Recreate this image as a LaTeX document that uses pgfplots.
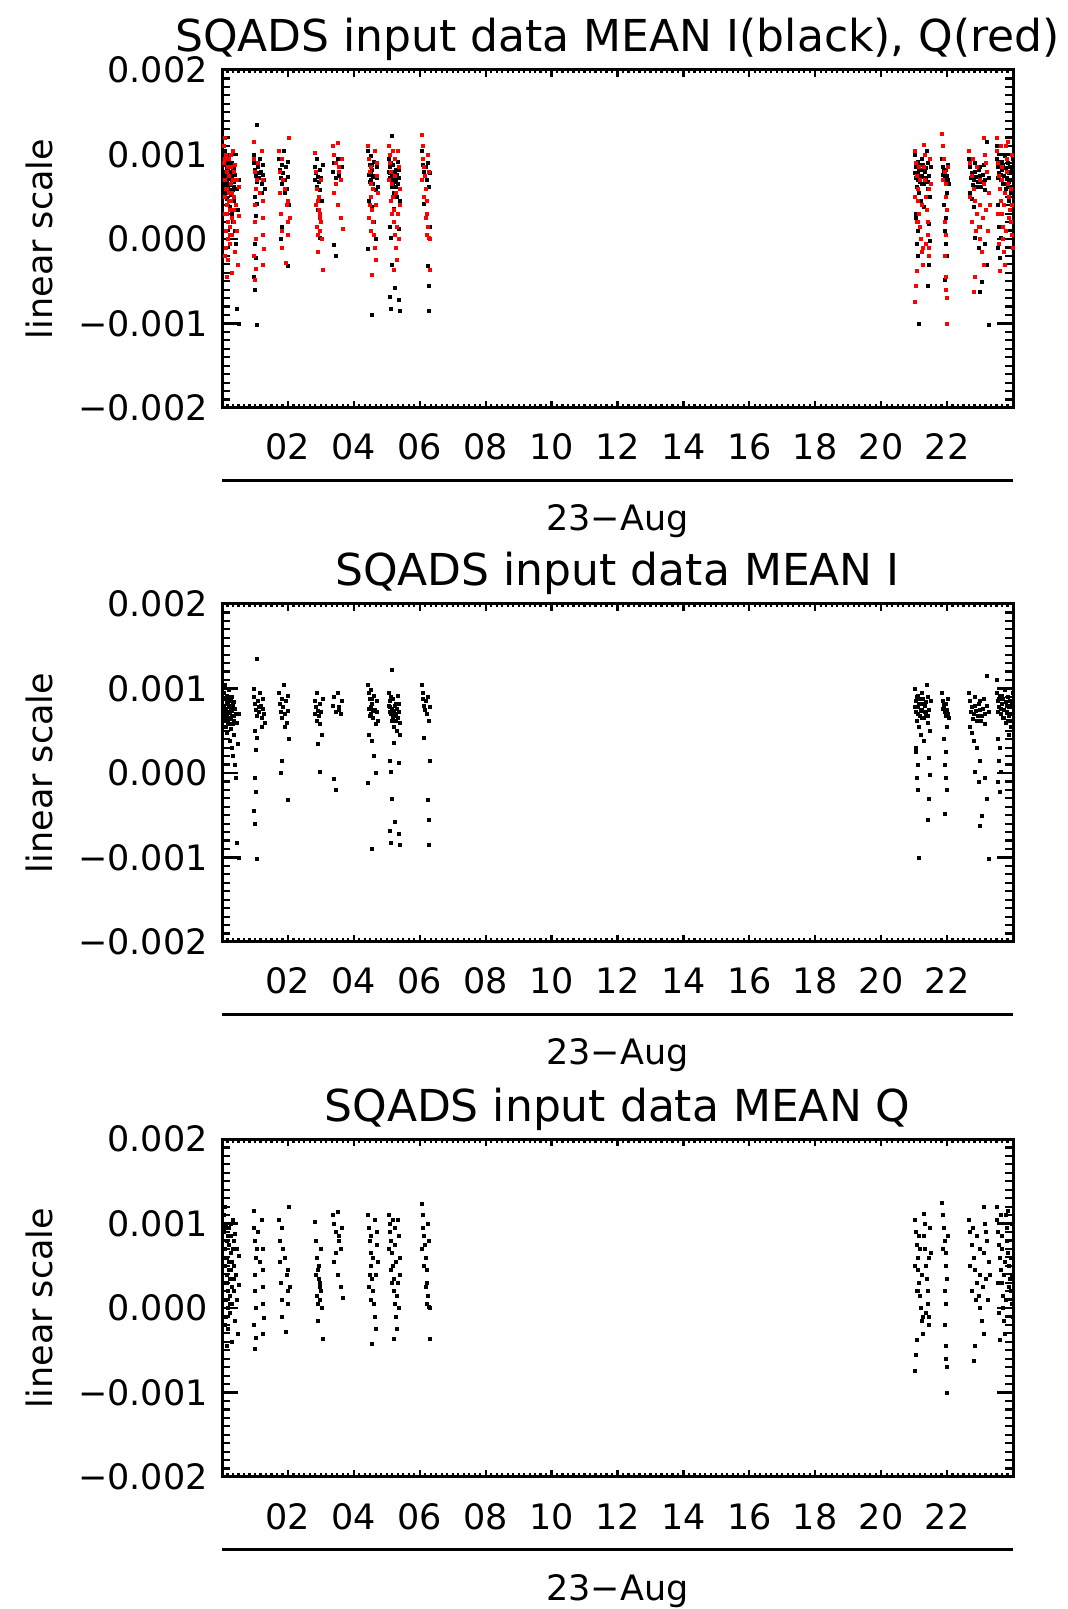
\documentclass[border=0pt]{standalone}
\usepackage{pgfplots}
\usepackage{pgfplotstable}
\pgfplotsset{compat=1.18}
\usepackage{fontspec}
\setmainfont{DejaVu Sans}

% MEAN I (black)
\pgfplotstableread[row sep=\\]{
t v\\
0.05 0.95e-3\\ 0.06 0.80e-3\\ 0.07 0.62e-3\\ 0.08 0.70e-3\\ 0.08 1.05e-3\\ 0.10 0.88e-3\\ 0.10 0.55e-3\\ 0.12 0.75e-3\\
0.13 0.68e-3\\ 0.14 0.92e-3\\ 0.15 0.48e-3\\ 0.16 0.83e-3\\ 0.17 0.72e-3\\ 0.18 0.60e-3\\ 0.19 0.98e-3\\ 0.20 0.78e-3\\
0.21 0.66e-3\\ 0.22 0.38e-3\\ 0.23 0.86e-3\\ 0.24 0.71e-3\\ 0.25 0.52e-3\\ 0.26 0.80e-3\\ 0.27 0.64e-3\\ 0.28 0.30e-3\\
0.29 0.90e-3\\ 0.30 0.74e-3\\ 0.31 0.58e-3\\ 0.32 0.20e-3\\ 0.33 0.82e-3\\ 0.35 0.45e-3\\ 0.36 0.68e-3\\ 0.38 0.10e-3\\
0.40 0.76e-3\\ 0.42 -0.05e-3\\ 0.44 0.60e-3\\ 0.45 -0.82e-3\\ 0.47 0.35e-3\\ 0.50 -1.00e-3\\ 0.52 0.70e-3\\
0.06 0.88e-3\\ 0.09 0.76e-3\\ 0.11 0.66e-3\\ 0.13 0.84e-3\\ 0.15 0.70e-3\\ 0.17 0.90e-3\\ 0.19 0.64e-3\\ 0.21 0.80e-3\\
0.23 0.58e-3\\ 0.25 0.74e-3\\ 0.27 0.86e-3\\ 0.29 0.68e-3\\ 0.31 0.78e-3\\ 0.34 0.62e-3\\ 0.37 0.84e-3\\ 0.41 0.70e-3\\
1.05 1.35e-3\\ 0.95 1.00e-3\\ 0.97 0.90e-3\\ 1.00 0.82e-3\\ 1.02 0.75e-3\\ 1.05 0.68e-3\\ 1.08 0.85e-3\\ 1.10 0.78e-3\\
1.12 0.72e-3\\ 1.15 0.95e-3\\ 1.18 0.80e-3\\ 1.20 0.65e-3\\ 1.22 0.88e-3\\ 1.25 0.76e-3\\ 1.28 0.70e-3\\ 1.30 0.60e-3\\
1.00 0.50e-3\\ 1.05 0.42e-3\\ 1.02 0.28e-3\\ 0.98 -0.05e-3\\ 1.03 -0.22e-3\\ 0.97 -0.45e-3\\ 1.00 -0.60e-3\\ 1.05 -1.02e-3\\ 1.20 0.55e-3\\
1.72 0.95e-3\\ 1.75 0.82e-3\\ 1.78 0.72e-3\\ 1.80 0.88e-3\\ 1.82 0.65e-3\\ 1.85 0.78e-3\\ 1.88 1.05e-3\\ 1.90 0.70e-3\\
1.92 0.85e-3\\ 1.95 0.60e-3\\ 1.98 0.92e-3\\ 2.00 0.74e-3\\ 2.02 0.40e-3\\ 1.80 0.15e-3\\ 1.78 0.00e-3\\ 2.00 -0.32e-3\\ 1.90 0.55e-3\\
2.80 0.85e-3\\ 2.82 0.70e-3\\ 2.85 0.78e-3\\ 2.87 0.62e-3\\ 2.88 0.95e-3\\ 2.90 0.74e-3\\ 2.92 0.68e-3\\ 2.95 0.82e-3\\
2.97 0.58e-3\\ 3.00 0.72e-3\\ 3.02 0.45e-3\\ 2.90 0.35e-3\\ 2.95 0.02e-3\\ 3.05 0.88e-3\\
3.35 0.80e-3\\ 3.40 0.90e-3\\ 3.45 0.72e-3\\ 3.50 0.95e-3\\ 3.55 0.78e-3\\ 3.60 0.70e-3\\ 3.62 0.85e-3\\ 3.40 -0.07e-3\\ 3.45 -0.20e-3\\ 3.55 0.75e-3\\
4.42 1.05e-3\\ 4.45 0.95e-3\\ 4.48 0.88e-3\\ 4.50 0.78e-3\\ 4.52 0.70e-3\\ 4.55 0.82e-3\\ 4.58 0.65e-3\\ 4.60 0.92e-3\\
4.62 0.75e-3\\ 4.65 0.58e-3\\ 4.68 0.85e-3\\ 4.70 0.72e-3\\ 4.45 0.45e-3\\ 4.55 0.38e-3\\ 4.60 0.20e-3\\ 4.65 0.00e-3\\
4.42 -0.12e-3\\ 4.55 -0.90e-3\\ 4.72 0.62e-3\\ 4.50 0.98e-3\\ 4.44 0.76e-3\\ 4.47 0.68e-3\\ 4.53 0.88e-3\\ 4.57 0.74e-3\\
5.15 1.22e-3\\ 5.05 0.95e-3\\ 5.08 0.85e-3\\ 5.10 0.78e-3\\ 5.12 0.70e-3\\ 5.15 0.62e-3\\ 5.18 0.88e-3\\ 5.20 0.74e-3\\
5.22 0.55e-3\\ 5.25 0.80e-3\\ 5.28 0.68e-3\\ 5.30 0.50e-3\\ 5.32 0.92e-3\\ 5.35 0.72e-3\\ 5.38 0.60e-3\\ 5.40 0.45e-3\\
5.20 0.36e-3\\ 5.10 0.15e-3\\ 5.12 0.02e-3\\ 5.35 0.12e-3\\ 5.15 -0.30e-3\\ 5.25 -0.58e-3\\ 5.10 -0.68e-3\\ 5.35 -0.72e-3\\
5.12 -0.82e-3\\ 5.38 -0.85e-3\\ 5.28 0.82e-3\\
5.06 0.80e-3\\ 5.09 0.72e-3\\ 5.13 0.90e-3\\ 5.16 0.76e-3\\ 5.19 0.66e-3\\ 5.23 0.70e-3\\ 5.26 0.62e-3\\ 5.30 0.76e-3\\ 5.33 0.66e-3\\ 5.36 0.82e-3\\
6.05 1.05e-3\\ 6.08 0.95e-3\\ 6.10 0.88e-3\\ 6.12 0.80e-3\\ 6.15 0.75e-3\\ 6.18 0.85e-3\\ 6.20 0.70e-3\\ 6.25 0.90e-3\\
6.28 0.62e-3\\ 6.30 0.78e-3\\ 6.12 0.42e-3\\ 6.30 0.14e-3\\ 6.25 -0.32e-3\\ 6.28 -0.55e-3\\ 6.27 -0.85e-3\\
21.02 1.00e-3\\ 21.05 0.85e-3\\ 21.06 0.72e-3\\ 21.08 0.62e-3\\ 21.10 0.92e-3\\ 21.12 0.78e-3\\ 21.14 0.55e-3\\ 21.16 0.68e-3\\
21.18 0.88e-3\\ 21.20 0.45e-3\\ 21.22 0.75e-3\\ 21.24 0.95e-3\\ 21.26 0.82e-3\\ 21.28 0.65e-3\\ 21.30 0.38e-3\\ 21.32 0.80e-3\\
21.35 0.70e-3\\ 21.38 1.05e-3\\ 21.40 0.60e-3\\ 21.42 0.90e-3\\ 21.45 0.75e-3\\ 21.48 0.50e-3\\ 21.50 0.85e-3\\ 21.05 0.25e-3\\
21.10 0.10e-3\\ 21.08 -0.05e-3\\ 21.12 -0.20e-3\\ 21.45 0.18e-3\\ 21.48 -0.02e-3\\ 21.45 -0.30e-3\\ 21.40 -0.55e-3\\ 21.15 -1.00e-3\\ 21.05 0.30e-3\\
21.03 0.78e-3\\ 21.07 0.90e-3\\ 21.11 0.70e-3\\ 21.15 0.82e-3\\ 21.19 0.74e-3\\ 21.23 0.66e-3\\ 21.27 0.88e-3\\ 21.31 0.72e-3\\ 21.36 0.84e-3\\ 21.41 0.68e-3\\
21.85 0.95e-3\\ 21.88 0.85e-3\\ 21.90 0.78e-3\\ 21.92 0.72e-3\\ 21.95 0.82e-3\\ 21.97 0.68e-3\\ 22.00 0.75e-3\\ 22.02 0.88e-3\\
22.05 0.65e-3\\ 21.90 0.40e-3\\ 21.95 0.25e-3\\ 21.92 0.10e-3\\ 21.95 -0.05e-3\\ 21.98 -0.20e-3\\ 21.93 -0.48e-3\\ 22.00 0.55e-3\\
21.87 0.76e-3\\ 21.91 0.82e-3\\ 21.96 0.74e-3\\ 22.01 0.70e-3\\
23.20 1.15e-3\\ 22.65 0.95e-3\\ 22.70 0.85e-3\\ 22.75 0.78e-3\\ 22.80 0.70e-3\\ 22.85 0.90e-3\\ 22.90 0.62e-3\\ 22.95 0.82e-3\\
23.00 0.75e-3\\ 23.05 0.68e-3\\ 23.10 0.88e-3\\ 23.15 0.58e-3\\ 23.20 0.80e-3\\ 23.25 0.72e-3\\ 22.75 0.48e-3\\ 22.80 0.38e-3\\
22.90 0.30e-3\\ 23.00 0.15e-3\\ 22.85 0.02e-3\\ 23.15 -0.05e-3\\ 22.95 -0.10e-3\\ 23.20 -0.30e-3\\ 23.05 -0.50e-3\\ 23.00 -0.62e-3\\
23.25 -1.02e-3\\ 22.70 0.55e-3\\
22.72 0.72e-3\\ 22.78 0.64e-3\\ 22.83 0.80e-3\\ 22.88 0.74e-3\\ 22.93 0.68e-3\\ 22.98 0.86e-3\\ 23.03 0.62e-3\\ 23.08 0.76e-3\\ 23.13 0.70e-3\\
23.50 1.10e-3\\ 23.52 0.95e-3\\ 23.55 0.85e-3\\ 23.58 0.78e-3\\ 23.60 0.92e-3\\ 23.62 0.70e-3\\ 23.65 0.82e-3\\ 23.68 0.65e-3\\
23.70 0.88e-3\\ 23.72 0.75e-3\\ 23.75 0.98e-3\\ 23.78 0.60e-3\\ 23.80 0.80e-3\\ 23.82 0.72e-3\\ 23.85 0.90e-3\\ 23.88 0.68e-3\\
23.90 0.85e-3\\ 23.92 0.55e-3\\ 23.95 0.78e-3\\ 23.98 0.95e-3\\ 23.55 0.40e-3\\ 23.60 0.30e-3\\ 23.58 0.15e-3\\ 23.62 0.02e-3\\
23.55 -0.10e-3\\ 23.60 -0.22e-3\\ 23.88 0.45e-3\\ 23.95 0.62e-3\\
23.53 0.72e-3\\ 23.57 0.88e-3\\ 23.63 0.76e-3\\ 23.67 0.92e-3\\ 23.73 0.66e-3\\ 23.77 0.84e-3\\ 23.83 0.62e-3\\ 23.87 0.78e-3\\ 23.93 0.70e-3\\ 23.97 0.82e-3\\
}\Idata

% MEAN Q (red)
\pgfplotstableread[row sep=\\]{
t v\\
0.05 1.10e-3\\ 0.06 0.90e-3\\ 0.07 0.70e-3\\ 0.08 0.50e-3\\ 0.09 0.30e-3\\ 0.10 0.10e-3\\ 0.11 -0.10e-3\\ 0.12 1.00e-3\\
0.13 0.80e-3\\ 0.14 0.60e-3\\ 0.15 0.40e-3\\ 0.16 0.20e-3\\ 0.17 0.00e-3\\ 0.18 -0.25e-3\\ 0.19 0.95e-3\\ 0.20 0.75e-3\\
0.21 0.55e-3\\ 0.22 0.35e-3\\ 0.23 0.15e-3\\ 0.24 -0.05e-3\\ 0.25 0.85e-3\\ 0.26 0.65e-3\\ 0.27 0.45e-3\\ 0.28 0.25e-3\\
0.29 0.05e-3\\ 0.30 -0.40e-3\\ 0.32 1.05e-3\\ 0.33 0.70e-3\\ 0.35 0.50e-3\\ 0.36 0.20e-3\\ 0.38 -0.15e-3\\ 0.40 0.88e-3\\
0.42 0.40e-3\\ 0.45 0.10e-3\\ 0.48 -0.30e-3\\ 0.50 0.62e-3\\ 0.52 0.28e-3\\ 0.08 1.20e-3\\ 0.15 -0.45e-3\\
0.07 0.95e-3\\ 0.10 0.60e-3\\ 0.13 0.30e-3\\ 0.16 0.85e-3\\ 0.19 0.45e-3\\ 0.22 0.05e-3\\ 0.26 1.00e-3\\ 0.30 0.55e-3\\
0.34 0.80e-3\\ 0.37 0.35e-3\\ 0.44 0.70e-3\\ 0.09 -0.20e-3\\
0.95 1.15e-3\\ 0.97 0.95e-3\\ 1.00 0.80e-3\\ 1.02 0.60e-3\\ 0.98 0.40e-3\\ 1.00 0.20e-3\\ 1.03 0.00e-3\\ 0.97 -0.20e-3\\
1.02 -0.35e-3\\ 1.00 -0.48e-3\\ 1.20 1.05e-3\\ 1.22 0.70e-3\\ 1.25 0.45e-3\\ 1.22 0.25e-3\\ 1.25 0.05e-3\\ 1.28 -0.12e-3\\
1.25 -0.30e-3\\ 1.05 0.70e-3\\ 1.08 0.90e-3\\ 1.15 0.55e-3\\
1.72 1.05e-3\\ 1.75 0.80e-3\\ 1.75 0.55e-3\\ 1.78 0.30e-3\\ 1.80 0.10e-3\\ 1.82 -0.10e-3\\ 1.80 0.95e-3\\ 1.90 0.60e-3\\
1.95 0.40e-3\\ 1.98 0.20e-3\\ 2.00 0.45e-3\\ 2.02 1.20e-3\\ 2.00 0.05e-3\\ 2.05 0.25e-3\\ 1.85 0.70e-3\\ 1.92 -0.28e-3\\
2.82 1.02e-3\\ 2.85 0.80e-3\\ 2.88 0.60e-3\\ 2.90 0.45e-3\\ 2.92 0.35e-3\\ 2.95 0.25e-3\\ 2.87 0.15e-3\\ 2.90 0.05e-3\\
2.93 0.50e-3\\ 2.97 0.30e-3\\ 3.00 0.20e-3\\ 2.85 0.40e-3\\ 2.95 0.10e-3\\ 3.02 0.00e-3\\ 2.90 -0.15e-3\\ 3.05 -0.36e-3\\ 3.00 0.70e-3\\
3.35 1.10e-3\\ 3.40 1.00e-3\\ 3.45 0.90e-3\\ 3.50 1.14e-3\\ 3.55 0.80e-3\\ 3.60 0.70e-3\\ 3.62 0.95e-3\\ 3.40 0.55e-3\\
3.50 0.40e-3\\ 3.60 0.25e-3\\ 3.45 0.65e-3\\ 3.65 0.12e-3\\ 3.55 0.85e-3\\
4.42 1.10e-3\\ 4.45 0.95e-3\\ 4.48 0.80e-3\\ 4.50 0.65e-3\\ 4.52 0.50e-3\\ 4.55 0.35e-3\\ 4.58 0.20e-3\\ 4.60 0.05e-3\\
4.62 -0.10e-3\\ 4.65 -0.25e-3\\ 4.55 -0.42e-3\\ 4.68 0.90e-3\\ 4.70 0.75e-3\\ 4.62 1.05e-3\\ 4.48 0.40e-3\\ 4.52 0.10e-3\\ 4.72 0.55e-3\\
4.45 0.25e-3\\ 4.50 0.85e-3\\ 4.58 0.60e-3\\ 4.66 0.40e-3\\
5.05 1.10e-3\\ 5.08 1.00e-3\\ 5.10 0.90e-3\\ 5.12 0.80e-3\\ 5.15 0.65e-3\\ 5.18 0.50e-3\\ 5.20 0.35e-3\\ 5.22 0.20e-3\\
5.25 0.05e-3\\ 5.28 -0.10e-3\\ 5.30 -0.25e-3\\ 5.20 -0.36e-3\\ 5.32 1.05e-3\\ 5.35 0.85e-3\\ 5.38 0.60e-3\\ 5.40 0.40e-3\\
5.30 0.15e-3\\ 5.25 0.95e-3\\ 5.15 0.30e-3\\ 5.35 0.00e-3\\
5.07 0.70e-3\\ 5.13 0.45e-3\\ 5.17 1.05e-3\\ 5.23 0.75e-3\\ 5.27 0.55e-3\\ 5.33 0.30e-3\\
6.05 1.24e-3\\ 6.08 1.10e-3\\ 6.10 0.95e-3\\ 6.12 0.85e-3\\ 6.15 0.75e-3\\ 6.18 0.60e-3\\ 6.20 0.45e-3\\ 6.22 0.30e-3\\
6.25 0.15e-3\\ 6.28 0.02e-3\\ 6.30 0.00e-3\\ 6.20 0.05e-3\\ 6.30 -0.36e-3\\ 6.25 1.00e-3\\ 6.12 0.50e-3\\
6.07 0.70e-3\\ 6.17 0.25e-3\\ 6.27 0.80e-3\\
21.02 1.05e-3\\ 21.05 0.90e-3\\ 21.08 0.75e-3\\ 21.10 0.60e-3\\ 21.12 0.45e-3\\ 21.15 0.30e-3\\ 21.18 0.15e-3\\ 21.20 0.00e-3\\
21.22 -0.15e-3\\ 21.25 -0.30e-3\\ 21.05 -0.55e-3\\ 21.02 -0.74e-3\\ 21.28 1.12e-3\\ 21.30 0.85e-3\\ 21.32 0.70e-3\\ 21.35 0.50e-3\\
21.38 0.35e-3\\ 21.40 0.20e-3\\ 21.42 0.05e-3\\ 21.45 -0.10e-3\\ 21.48 0.95e-3\\ 21.50 0.65e-3\\ 21.12 0.20e-3\\ 21.35 -0.05e-3\\
21.45 -0.20e-3\\ 21.08 -0.38e-3\\
21.03 0.50e-3\\ 21.07 0.20e-3\\ 21.13 0.85e-3\\ 21.17 0.70e-3\\ 21.23 0.40e-3\\ 21.27 -0.10e-3\\ 21.33 1.00e-3\\ 21.43 0.60e-3\\
21.85 1.25e-3\\ 21.88 1.10e-3\\ 21.90 0.95e-3\\ 21.92 0.80e-3\\ 21.95 0.65e-3\\ 21.97 0.50e-3\\ 22.00 0.35e-3\\ 21.92 0.20e-3\\
21.95 0.05e-3\\ 21.93 -0.20e-3\\ 21.95 -0.45e-3\\ 21.97 -0.60e-3\\ 22.00 -0.70e-3\\ 22.00 -1.00e-3\\ 22.02 0.85e-3\\ 21.88 0.70e-3\\
22.65 1.05e-3\\ 22.70 0.90e-3\\ 22.75 0.75e-3\\ 22.80 0.60e-3\\ 22.85 0.45e-3\\ 22.90 0.30e-3\\ 22.95 0.15e-3\\ 23.00 0.00e-3\\
23.05 -0.15e-3\\ 23.10 -0.30e-3\\ 22.85 -0.45e-3\\ 22.80 -0.62e-3\\ 23.10 1.20e-3\\ 23.15 1.00e-3\\ 23.20 0.80e-3\\ 23.25 0.55e-3\\
23.18 0.35e-3\\ 23.22 0.10e-3\\ 22.90 0.85e-3\\ 23.00 0.40e-3\\ 22.75 0.20e-3\\ 23.12 0.65e-3\\
22.68 0.50e-3\\ 22.78 0.95e-3\\ 22.88 0.10e-3\\ 22.98 0.70e-3\\ 23.08 0.25e-3\\ 23.18 0.90e-3\\ 23.28 0.40e-3\\
23.50 1.20e-3\\ 23.52 1.05e-3\\ 23.55 0.90e-3\\ 23.58 0.75e-3\\ 23.60 0.60e-3\\ 23.62 0.45e-3\\ 23.65 0.30e-3\\ 23.68 0.15e-3\\
23.70 0.00e-3\\ 23.72 -0.15e-3\\ 23.75 -0.30e-3\\ 23.78 1.10e-3\\ 23.80 0.95e-3\\ 23.82 0.80e-3\\ 23.85 0.65e-3\\ 23.88 0.50e-3\\
23.90 0.35e-3\\ 23.92 0.20e-3\\ 23.95 0.05e-3\\ 23.98 -0.10e-3\\ 23.60 -0.37e-3\\ 23.65 0.85e-3\\ 23.75 0.55e-3\\ 23.95 1.00e-3\\
23.53 0.30e-3\\ 23.57 -0.05e-3\\ 23.63 1.10e-3\\ 23.67 0.70e-3\\ 23.73 0.40e-3\\ 23.77 0.10e-3\\ 23.83 1.15e-3\\ 23.87 0.25e-3\\ 23.93 0.60e-3\\ 23.97 0.40e-3\\
}\Qdata

\pgfplotsset{
  sqads/.style={
    scale only axis, width=791pt, height=338pt,
    xmin=0, xmax=24, ymin=-0.002, ymax=0.002,
    xtick={0,2,...,24},
    xticklabels={,02,04,06,08,10,12,14,16,18,20,22,},
    ytick={-0.002,-0.001,0,0.001,0.002},
    yticklabels={−0.002,−0.001,0.000,0.001,0.002},
    scaled y ticks=false, scaled x ticks=false,
    minor x tick num=11, minor y tick num=9,
    tick pos=both, tick align=inside,
    axis line style={line width=3pt, black},
    tick style={line width=2.2pt, black},
    xtick style={/pgfplots/major tick length=7pt, /pgfplots/minor tick length=3.5pt},
    ytick style={/pgfplots/major tick length=16pt, /pgfplots/minor tick length=8pt},
    tick label style={font=\fontsize{35}{40}\selectfont},
    xticklabel style={anchor=base, yshift=-52pt},
    yticklabel style={anchor=east, inner sep=0pt, xshift=-14pt},
    title style={font=\fontsize{44}{50}\selectfont, at={(axis description cs:0.5,1)}, anchor=base, yshift=12pt},
    every axis x label/.style={at={(axis description cs:0.5,0)}, anchor=base, yshift=-123pt, font=\fontsize{35}{40}\selectfont},
    every axis y label/.style={at={([xshift=-169pt]axis description cs:0,0.5)}, anchor=base, rotate=90, font=\fontsize{35}{40}\selectfont},
    xlabel={23−Aug}, ylabel={linear scale},
    clip=false,
  },
  dotI/.style={only marks, mark=square*, mark size=1.5pt, black, mark options={draw=none, fill=black}},
  dotQ/.style={only marks, mark=square*, mark size=1.5pt, red, mark options={draw=none, fill=red}},
}

\begin{document}
\begin{tikzpicture}
\path[use as bounding box] (0pt,0pt) rectangle (1068pt,1609pt);

\begin{axis}[sqads, at={(222pt,1201pt)}, anchor=south west,
  title={SQADS input data MEAN I(black), Q(red)}]
  \addplot[dotI] table[x=t,y=v]{\Idata};
  \addplot[dotQ] table[x=t,y=v]{\Qdata};
  \draw[line width=3pt] ([yshift=-73pt]rel axis cs:0,0) -- ([yshift=-73pt]rel axis cs:1,0);
\end{axis}

\begin{axis}[sqads, at={(222pt,667pt)}, anchor=south west,
  title={SQADS input data MEAN I}]
  \addplot[dotI] table[x=t,y=v]{\Idata};
  \draw[line width=3pt] ([yshift=-73pt]rel axis cs:0,0) -- ([yshift=-73pt]rel axis cs:1,0);
\end{axis}

\begin{axis}[sqads, at={(222pt,132pt)}, anchor=south west,
  title={SQADS input data MEAN Q}]
  \addplot[dotI] table[x=t,y=v]{\Qdata};
  \draw[line width=3pt] ([yshift=-72pt]rel axis cs:0,0) -- ([yshift=-72pt]rel axis cs:1,0);
\end{axis}
\end{tikzpicture}
\end{document}
